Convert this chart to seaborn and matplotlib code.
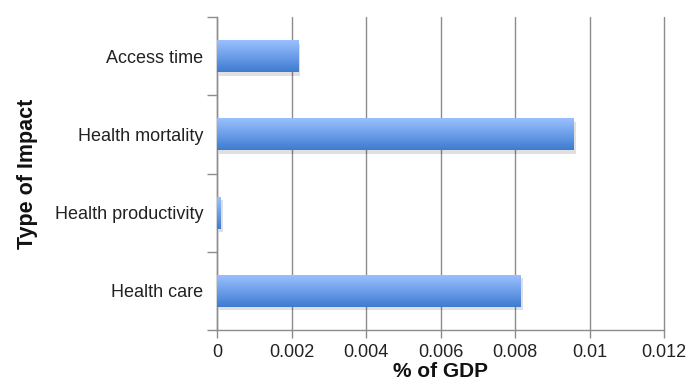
import numpy as np
import pandas as pd
import matplotlib
matplotlib.use("Agg")
import matplotlib.pyplot as plt
import matplotlib.patheffects as pe
from matplotlib.colors import LinearSegmentedColormap
import seaborn as sns

categories = ["Access time", "Health mortality", "Health productivity", "Health care"]
values = [0.00218, 0.00958, 0.0001, 0.00815]
xticks = [0, 0.002, 0.004, 0.006, 0.008, 0.01, 0.012]
xtick_labels = ["0", "0.002", "0.004", "0.006", "0.008", "0.01", "0.012"]

sns.set_theme(style="white")
plt.rcParams["font.family"] = ["Liberation Sans", "DejaVu Sans"]

df = pd.DataFrame({"Type of Impact": categories, "% of GDP": values})

fig = plt.figure(figsize=(6.89, 3.87), dpi=100)
ax = fig.add_axes([217/689, 1-330/387, (664-217)/689, (330-17)/387])

sns.barplot(data=df, y="Type of Impact", x="% of GDP", orient="h",
            width=0.41, color="#5A8FE0", ax=ax, zorder=3)

ax.set_xlim(0, 0.012)
ax.set_ylim(3.5, -0.5)
ax.set_xticks(xticks)
ax.set_xticklabels(xtick_labels, fontsize=13, color="#222222")
ax.xaxis.grid(True, color="#8c8c8c", linewidth=1.0, zorder=0)
for gl in ax.get_xgridlines():
    gl.set_clip_on(False)
ax.set_axisbelow(True)

# gradient fill on bars
cmap = LinearSegmentedColormap.from_list("g", ["#9DC3FF", "#6E9FEA", "#3E7BD0"])
grad = np.linspace(0, 1, 256).reshape(-1, 1)
for p in ax.patches:
    x0, y0 = p.get_x(), p.get_y()
    w, h = p.get_width(), p.get_height()
    p.set_path_effects([pe.SimplePatchShadow(offset=(1.5, -2.5), shadow_rgbFace="#000000", alpha=0.12)])
    p.set_edgecolor("none")
    im = ax.imshow(grad, extent=[x0, x0 + w, y0 + h, y0], cmap=cmap, aspect="auto",
                   zorder=4, interpolation="bicubic")
    im.set_clip_path(p)
ax.set_xlim(0, 0.012)
ax.set_ylim(3.5, -0.5)

ax.set_yticks(range(len(categories)))
ax.set_yticklabels(categories, fontsize=13, color="#222222")
ax.tick_params(axis="y", which="major", length=0, pad=10)
ax.set_yticks(np.arange(-0.5, len(categories), 1.0), minor=True)
ax.tick_params(axis="y", which="minor", length=7, color="#8c8c8c", width=1.0, left=True)
ax.tick_params(axis="x", which="major", length=6, color="#8c8c8c", width=1.0, bottom=True, pad=4)

for s in ["top", "right"]:
    ax.spines[s].set_visible(False)
for s in ["left", "bottom"]:
    ax.spines[s].set_color("#8c8c8c")
    ax.spines[s].set_linewidth(1.0)

ax.set_ylabel("Type of Impact", fontsize=15.5, fontweight="bold", color="#111111", labelpad=12)
ax.set_xlabel("% of GDP", fontsize=15, fontweight="bold", color="#111111", labelpad=1)

fig.savefig("out.png", dpi=100)
